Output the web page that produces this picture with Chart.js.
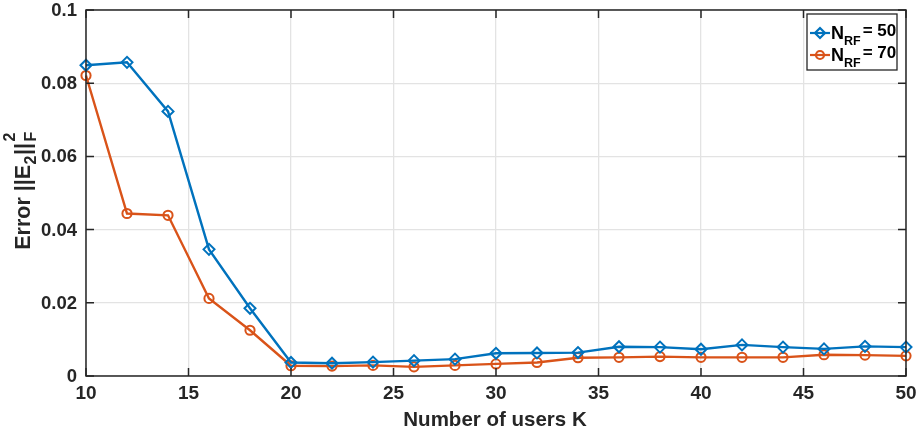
<!DOCTYPE html>
<html><head><meta charset="utf-8">
<script src="https://cdn.jsdelivr.net/npm/chart.js@4.4.1/dist/chart.umd.min.js"></script>
<style>html,body{margin:0;padding:0;background:#fff;}#wrap{width:917px;height:434px;}</style>
</head><body><div id="wrap"><canvas id="c" width="917" height="434"></canvas></div>
<script>
const usersK = [10,12,14,16,18,20,22,24,26,28,30,32,34,36,38,40,42,44,46,48,50];
const errNRF50 = [0.0849,0.0857,0.0723,0.0346,0.0185,0.0037,0.0035,0.0038,0.0042,0.0046,0.0062,0.0063,0.0064,0.0080,0.0079,0.0073,0.0085,0.0079,0.0074,0.0081,0.0079];
const errNRF70 = [0.0821,0.0444,0.0439,0.0212,0.0125,0.0028,0.0027,0.0029,0.0025,0.0029,0.0033,0.0037,0.0050,0.0051,0.0053,0.0051,0.0051,0.0051,0.0058,0.0057,0.0055];
const xTickLabels = ['10','15','20','25','30','35','40','45','50'];
const yTickLabels = ['0','0.02','0.04','0.06','0.08','0.1'];
const seriesLabels = ['50','70'];

const BLUE = '#0072BD', ORANGE = '#D95319', AX = '#262626';
const FONT = '"Liberation Sans", Arial, Helvetica, sans-serif';

const boxPlugin = {
  id: 'boxPlugin',
  afterDraw(chart) {
    const ctx = chart.ctx, a = chart.chartArea;
    const xs = chart.scales.x, ys = chart.scales.y;
    ctx.save();
    ctx.strokeStyle = AX; ctx.lineWidth = 1.5;
    ctx.strokeRect(a.left, a.top, a.right - a.left, a.bottom - a.top);
    const tl = 8;
    ctx.beginPath();
    xs.ticks.forEach(t => {
      const px = xs.getPixelForValue(t.value);
      ctx.moveTo(px, a.bottom); ctx.lineTo(px, a.bottom - tl);
      ctx.moveTo(px, a.top); ctx.lineTo(px, a.top + tl);
    });
    ys.ticks.forEach(t => {
      const py = ys.getPixelForValue(t.value);
      ctx.moveTo(a.left, py); ctx.lineTo(a.left + tl, py);
      ctx.moveTo(a.right, py); ctx.lineTo(a.right - tl, py);
    });
    ctx.stroke();

    // tick labels
    ctx.fillStyle = AX;
    ctx.font = 'bold 19px ' + FONT;
    ctx.textAlign = 'center'; ctx.textBaseline = 'middle';
    xs.ticks.forEach((t, i) => {
      ctx.fillText(xTickLabels[i], xs.getPixelForValue(t.value), 394);
    });
    ctx.font = 'bold 18.5px ' + FONT;
    ctx.textAlign = 'right';
    ys.ticks.forEach((t, i) => {
      ctx.fillText(yTickLabels[i], a.left - 9, ys.getPixelForValue(t.value) + 1);
    });

    // x title
    ctx.font = 'bold 20.5px ' + FONT;
    ctx.textAlign = 'center'; ctx.textBaseline = 'middle';
    ctx.fillText('Number of users K', (a.left + a.right) / 2 - 1, 420);

    // y title (rotated, with sub/superscripts)
    ctx.save();
    ctx.translate(22, 192);
    ctx.rotate(-Math.PI / 2);
    const big = 'bold 21.5px ' + FONT, small = 'bold 16px ' + FONT;
    const parts = [
      {t: 'Error ||E', f: big, dy: 0},
      {t: '2', f: small, dy: 6},
      {t: '||', f: big, dy: 0},
    ];
    let w = 0;
    parts.forEach(p => { ctx.font = p.f; p.w = ctx.measureText(p.t).width; w += p.w; });
    ctx.font = small; const wF = ctx.measureText('F').width;
    w += wF;
    let x = -w / 2;
    ctx.textAlign = 'left'; ctx.textBaseline = 'alphabetic';
    const base = 8;
    parts.forEach(p => { ctx.font = p.f; ctx.fillText(p.t, x, base + p.dy); x += p.w + 0.5; });
    ctx.font = small;
    ctx.fillText('F', x + 1, base + 6);
    ctx.fillText('2', x + 1, base - 15);
    ctx.restore();

    // legend
    const lx = 807, ly = 14, lw = 90, lh = 56;
    ctx.fillStyle = '#fff';
    ctx.fillRect(lx, ly, lw, lh);
    ctx.strokeStyle = AX; ctx.lineWidth = 1.3;
    ctx.strokeRect(lx, ly, lw, lh);
    ctx.textAlign = 'left'; ctx.textBaseline = 'alphabetic';
    const rows = [{c: BLUE, m: 'd', y: 33}, {c: ORANGE, m: 'o', y: 55}];
    rows.forEach((r, i) => {
      ctx.strokeStyle = r.c; ctx.lineWidth = 2.2;
      ctx.beginPath(); ctx.moveTo(810, r.y); ctx.lineTo(830, r.y); ctx.stroke();
      ctx.beginPath();
      if (r.m === 'd') { ctx.moveTo(820, r.y - 5); ctx.lineTo(825, r.y); ctx.lineTo(820, r.y + 5); ctx.lineTo(815, r.y); ctx.closePath(); }
      else { ctx.arc(820, r.y, 4, 0, Math.PI * 2); }
      ctx.stroke();
      ctx.fillStyle = '#000';
      ctx.font = 'bold 18px ' + FONT;
      ctx.fillText('N', 831, r.y + 6);
      let xx = 831 + ctx.measureText('N').width;
      ctx.font = 'bold 12.5px ' + FONT;
      ctx.fillText('RF', xx, r.y + 12);
      xx += ctx.measureText('RF').width + 1;
      ctx.font = 'bold 17px ' + FONT;
      ctx.fillText('= ' + seriesLabels[i], xx + 1, r.y + 3);
    });
    ctx.restore();
  }
};

new Chart(document.getElementById('c'), {
  type: 'line',
  data: {
    datasets: [
      {label: 'NRF = 50', data: usersK.map((k, i) => ({x: k, y: errNRF50[i]})),
       borderColor: BLUE, backgroundColor: 'rgba(0,0,0,0)', borderWidth: 2.4,
       pointStyle: 'rectRot', pointRadius: 5.5, pointBorderWidth: 2, pointBorderColor: BLUE, pointBackgroundColor: 'rgba(0,0,0,0)', tension: 0, clip: false},
      {label: 'NRF = 70', data: usersK.map((k, i) => ({x: k, y: errNRF70[i]})),
       borderColor: ORANGE, backgroundColor: 'rgba(0,0,0,0)', borderWidth: 2.4,
       pointStyle: 'circle', pointRadius: 4.6, pointBorderWidth: 2, pointBorderColor: ORANGE, pointBackgroundColor: 'rgba(0,0,0,0)', tension: 0, clip: false}
    ]
  },
  options: {
    responsive: false, animation: false, devicePixelRatio: 1,
    layout: {padding: {top: 10, right: 11, left: 0, bottom: 0}},
    plugins: {legend: {display: false}, tooltip: {enabled: false}},
    scales: {
      x: {type: 'linear', min: 10, max: 50,
        afterFit(s) { s.height = 58; },
        border: {display: false},
        grid: {color: '#e3e3e3', lineWidth: 1.3, drawTicks: false},
        ticks: {stepSize: 5, display: false}
      },
      y: {type: 'linear', min: 0, max: 0.1,
        afterFit(s) { s.width = 86; },
        border: {display: false},
        grid: {color: '#e3e3e3', lineWidth: 1.3, drawTicks: false},
        ticks: {stepSize: 0.02, display: false}
      }
    }
  },
  plugins: [boxPlugin]
});
</script></body></html>
